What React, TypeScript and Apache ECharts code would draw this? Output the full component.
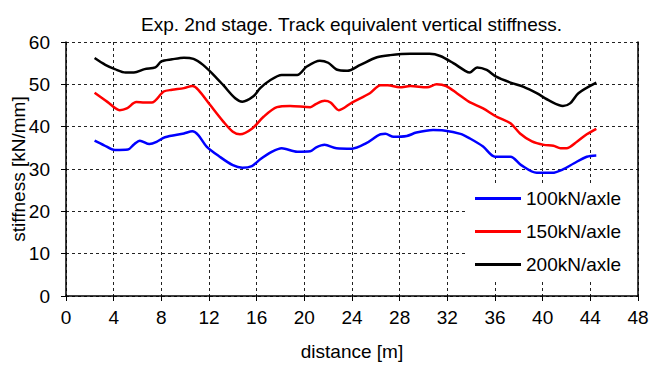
import React, { useEffect, useRef } from "react";
import * as echarts from "echarts";

const xTicks = [0, 4, 8, 12, 16, 20, 24, 28, 32, 36, 40, 44, 48];
const yTicks = [0, 10, 20, 30, 40, 50, 60];
const seriesNames = ["100kN/axle", "150kN/axle", "200kN/axle"];
const seriesColors = ["#0000ff", "#ff0000", "#000000"];

const blue100: [number, number][] = [
  [2.4, 36.7], [3.2, 35.6], [4.1, 34.5], [5.2, 34.6], [5.7, 35.8], [6.2, 36.7], [7.0, 35.9], [7.6, 36.4],
  [8.3, 37.5], [9.9, 38.4], [10.6, 38.9], [11.1, 38.0], [11.8, 35.3], [12.9, 32.9], [14.0, 30.9], [14.8, 30.3],
  [15.6, 30.7], [16.3, 32.3], [17.3, 34.1], [18.1, 34.9], [19.4, 34.1], [20.5, 34.2], [21.0, 35.1], [21.7, 35.7],
  [22.7, 34.9], [24.0, 34.8], [25.2, 36.1], [26.4, 38.2], [26.8, 38.3], [27.5, 37.6], [28.6, 37.8], [29.4, 38.6],
  [30.8, 39.2], [31.7, 39.1], [33.1, 38.3], [33.9, 37.2], [35.0, 35.3], [36.0, 32.9], [37.3, 32.9], [38.2, 30.9],
  [39.5, 29.1], [40.8, 29.1], [41.7, 29.9], [42.6, 31.3], [43.7, 32.9], [44.5, 33.2],
];

const red150: [number, number][] = [
  [2.4, 48.0], [3.5, 45.8], [4.5, 43.9], [5.1, 44.3], [5.9, 45.8], [6.6, 45.7], [7.2, 45.7], [8.2, 48.3],
  [8.9, 48.7], [9.9, 49.1], [10.6, 49.6], [11.1, 48.7], [12.1, 45.1], [13.2, 41.2], [14.0, 38.8], [14.6, 38.2],
  [15.6, 39.5], [16.6, 42.4], [17.7, 44.6], [18.8, 44.9], [20.5, 44.6], [21.0, 45.4], [21.7, 46.1], [22.2, 45.7],
  [22.9, 43.9], [24.0, 45.7], [25.5, 47.9], [26.4, 49.8], [27.0, 49.8], [28.0, 49.3], [28.9, 49.6], [30.3, 49.3],
  [31.1, 50.0], [31.9, 49.6], [32.8, 47.9], [33.8, 45.9], [35.0, 44.3], [36.1, 42.4], [37.3, 40.8], [38.1, 38.4],
  [39.1, 36.5], [40.1, 35.7], [40.9, 35.5], [41.5, 34.9], [42.0, 34.9], [42.9, 36.5], [43.7, 38.2], [44.5, 39.5],
];

const black200: [number, number][] = [
  [2.4, 56.2], [3.3, 54.6], [4.1, 53.6], [5.0, 52.8], [5.7, 52.8], [6.6, 53.6], [7.5, 54.0], [8.0, 55.4],
  [8.9, 55.9], [9.9, 56.3], [10.7, 56.0], [11.5, 54.6], [12.4, 52.2], [13.2, 49.8], [14.2, 46.7], [14.8, 45.9],
  [15.7, 47.1], [16.3, 49.1], [17.1, 50.9], [18.1, 52.2], [19.4, 52.2], [20.2, 54.2], [21.3, 55.6], [22.0, 55.1],
  [22.7, 53.5], [23.6, 53.2], [24.7, 54.6], [26.1, 56.4], [27.2, 56.9], [28.9, 57.2], [30.5, 57.2], [31.4, 56.7],
  [32.5, 55.0], [33.5, 53.2], [33.9, 52.8], [34.5, 54.0], [35.3, 53.4], [36.1, 51.8], [37.3, 50.4], [38.4, 49.4],
  [39.5, 47.9], [40.6, 46.1], [41.7, 44.9], [42.3, 45.5], [43.0, 47.9], [44.5, 50.4],
];

const seriesData = [blue100, red150, black200];

const FONT = "Liberation Sans, Arial, sans-serif";

export default function App() {
  const ref = useRef<HTMLDivElement>(null);
  useEffect(() => {
    if (!ref.current) return;
    const chart = echarts.init(ref.current, undefined, { renderer: "svg" });
    chart.setOption({
      animation: false,
      backgroundColor: "#ffffff",
      title: {
        text: "Exp. 2nd stage. Track equivalent vertical stiffness.",
        left: 136,
        top: 10,
        textStyle: { fontFamily: FONT, fontSize: 19, fontWeight: "normal", color: "#000" },
      },
      grid: { left: 66, right: 12, top: 42, bottom: 72, containLabel: false, outerBoundsMode: "none" },
      legend: {
        data: seriesNames,
        orient: "vertical",
        left: 465,
        top: 183,
        backgroundColor: "#ffffff",
        padding: [6, 16, 8, 10],
        icon: "rect",
        itemWidth: 46,
        itemHeight: 3,
        itemGap: 14,
        textStyle: { fontFamily: FONT, fontSize: 19, color: "#000" },
      },
      xAxis: {
        type: "value",
        min: xTicks[0],
        max: xTicks[xTicks.length - 1],
        interval: 4,
        name: "distance [m]",
        nameLocation: "middle",
        nameGap: 46,
        nameMoveOverlap: false,
        nameTextStyle: { fontFamily: FONT, fontSize: 19, color: "#000" },
        axisLine: { show: true, onZero: false, lineStyle: { color: "#000", width: 1.5 } },
        axisTick: { show: true, length: 5, lineStyle: { color: "#000" } },
        axisLabel: { fontFamily: FONT, fontSize: 19, color: "#000", margin: 12 },
        splitLine: { show: true, lineStyle: { color: "#222", type: [3, 3], width: 1 } },
      },
      yAxis: [
        {
          type: "value",
          min: yTicks[0],
          max: yTicks[yTicks.length - 1],
          interval: 10,
          name: "stiffness [kN/mm]",
          nameLocation: "middle",
          nameGap: 38,
          nameMoveOverlap: false,
          nameTextStyle: { fontFamily: FONT, fontSize: 19, color: "#000" },
          axisLine: { show: true, onZero: false, lineStyle: { color: "#000", width: 1.5 } },
          axisTick: { show: true, length: 5, lineStyle: { color: "#000" } },
          axisLabel: { fontFamily: FONT, fontSize: 19, color: "#000", margin: 16 },
          splitLine: { show: true, lineStyle: { color: "#222", type: [3, 3], width: 1 } },
        },
        {
          type: "value",
          position: "right",
          min: yTicks[0],
          max: yTicks[yTicks.length - 1],
          interval: 10,
          axisLine: { show: true, onZero: false, lineStyle: { color: "#000", width: 1.5 } },
          axisTick: { show: false },
          axisLabel: { show: false },
          splitLine: { show: false },
        },
      ],
      series: seriesData.map((d, i) => ({
        name: seriesNames[i],
        type: "line",
        data: d,
        showSymbol: false,
        smooth: 0.3,
        lineStyle: { color: seriesColors[i], width: 2.5 },
        itemStyle: { color: seriesColors[i] },
      })),
    });
    return () => chart.dispose();
  }, []);
  return (
    <div
      ref={ref}
      style={{ position: "fixed", left: 0, top: 0, width: 650, height: 368, background: "#fff" }}
    />
  );
}
